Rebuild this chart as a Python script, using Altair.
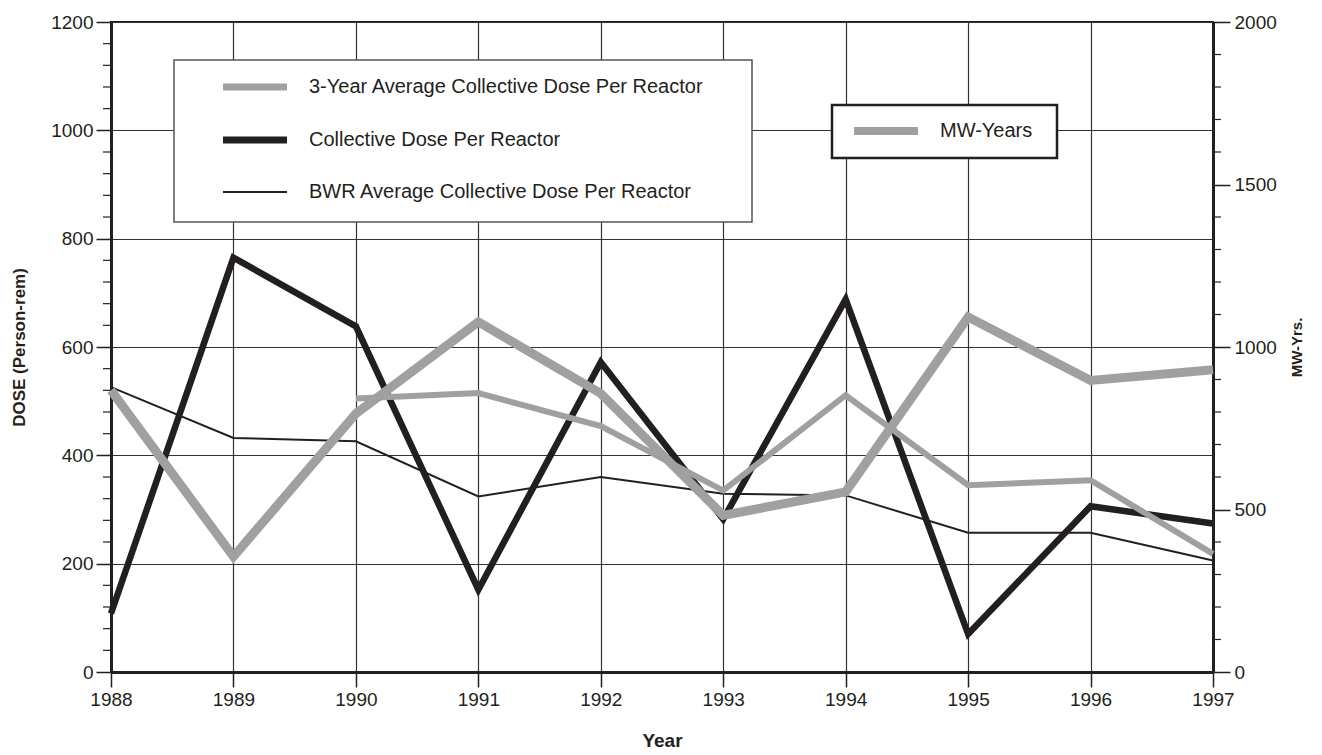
import altair as alt
import pandas as pd

# ---------------- data ----------------
years = [1988, 1989, 1990, 1991, 1992, 1993, 1994, 1995, 1996, 1997]
collective_dose = [108, 765, 638, 152, 572, 282, 688, 70, 306, 274]
bwr_average = [526, 432, 426, 324, 360, 329, 326, 257, 257, 206]
avg3_years = [1990, 1991, 1992, 1993, 1994, 1995, 1996, 1997]
avg3_dose = [505, 515, 454, 335, 511, 345, 354, 218]
mw_years = [867, 355, 795, 1077, 857, 482, 554, 1092, 897, 930]

dose_ticks = [0, 200, 400, 600, 800, 1000, 1200]
dose_minor = [40, 80, 120, 160, 240, 280, 320, 360, 440, 480, 520, 560, 640, 680,
              720, 760, 840, 880, 920, 960, 1040, 1080, 1120, 1160]
mw_ticks = [0, 500, 1000, 1500, 2000]
mw_minor = [100, 200, 300, 400, 600, 700, 800, 900, 1100, 1200, 1300, 1400,
            1600, 1700, 1800, 1900]

legend_labels = ["3-Year Average Collective Dose Per Reactor",
                 "Collective Dose Per Reactor",
                 "BWR Average Collective Dose Per Reactor"]
mw_legend_label = "MW-Years"

# ---------------- styling ----------------
FONT = "Liberation Sans"
BLACK = "#231f20"
GRAY = "#a0a0a0"
W, H = 1102, 650
LBL = 19

x_axis = alt.Axis(values=years, format="d", title="Year", grid=True,
                  gridColor="#333333", gridWidth=1.2, domainColor=BLACK,
                  domainWidth=3, tickColor=BLACK, tickWidth=1.5, tickSize=15,
                  labelFont=FONT, labelFontSize=LBL, labelColor=BLACK,
                  labelPadding=3, labelFlush=False,
                  titleFont=FONT, titleFontSize=19, titleFontWeight="bold",
                  titleColor=BLACK, titlePadding=22)
x_scale = alt.Scale(domain=[1988, 1997], nice=False, zero=False)

left_axis = alt.Axis(values=dose_ticks, format="d", title="DOSE (Person-rem)",
                     grid=True, gridColor="#333333", gridWidth=1.2,
                     domainColor=BLACK, domainWidth=3, tickColor=BLACK,
                     tickWidth=1.5, tickSize=15, labelFont=FONT,
                     labelFontSize=LBL, labelColor=BLACK, labelPadding=3,
                     titleFont=FONT, titleFontSize=17, titleFontWeight="bold",
                     titleColor=BLACK, titlePadding=22)
left_scale = alt.Scale(domain=[0, 1200], nice=False)

right_axis = alt.Axis(values=mw_ticks, format="d", title="MW-Yrs.", orient="right",
                      grid=False, domainColor=BLACK, domainWidth=3,
                      tickColor=BLACK, tickWidth=1.5, tickSize=17,
                      labelFont=FONT, labelFontSize=LBL, labelColor=BLACK,
                      labelPadding=4, titleFont=FONT, titleFontSize=15,
                      titleFontWeight="bold", titleColor=BLACK,
                      titleAngle=270, titlePadding=28)
right_scale = alt.Scale(domain=[0, 2000], nice=False)

X = alt.X("year:Q", scale=x_scale, axis=x_axis)

# ---------------- dose layers ----------------
df_coll = pd.DataFrame({"year": years, "dose": collective_dose})
df_bwr = pd.DataFrame({"year": years, "dose": bwr_average})
df_avg = pd.DataFrame({"year": avg3_years, "dose": avg3_dose})
df_mw = pd.DataFrame({"year": years, "mw": mw_years})

Yd = alt.Y("dose:Q", scale=left_scale, axis=left_axis)

bwr_line = alt.Chart(df_bwr).mark_line(color=BLACK, strokeWidth=2,
                                       strokeJoin="miter").encode(x=X, y=Yd)
coll_line = alt.Chart(df_coll).mark_line(color=BLACK, strokeWidth=6.5,
                                         strokeJoin="miter").encode(x=X, y=Yd)
avg_line = alt.Chart(df_avg).mark_line(color=GRAY, strokeWidth=6,
                                       strokeJoin="miter").encode(x=X, y=Yd)

minor_left = alt.Chart(pd.DataFrame({"dose": dose_minor})).mark_rule(
    color=BLACK, strokeWidth=1.2).encode(
    y=Yd, x=alt.value(-8), x2=alt.value(0))

# dose legend (box + swatches + labels)
leg_box = alt.Chart(pd.DataFrame({"a": [0]})).mark_rect(
    fill="white", stroke="#555555", strokeWidth=1.5).encode(
    x=alt.value(63), x2=alt.value(641), y=alt.value(38), y2=alt.value(200))
leg_layers = [leg_box]
row_y = [65, 118, 170]
sw_col = [GRAY, BLACK, BLACK]
sw_w = [7, 7, 2]
for lab, yy, c, sw in zip(legend_labels, row_y, sw_col, sw_w):
    leg_layers.append(
        alt.Chart(pd.DataFrame({"label": [lab]})).mark_rule(
            color=c, strokeWidth=sw).encode(
            x=alt.value(112), x2=alt.value(176), y=alt.value(yy)))
    leg_layers.append(
        alt.Chart(pd.DataFrame({"label": [lab]})).mark_text(
            font=FONT, fontSize=20, color=BLACK, align="left",
            baseline="middle").encode(
            text="label:N", x=alt.value(198), y=alt.value(yy)))

dose_layer = alt.layer(bwr_line, coll_line, avg_line, minor_left, *leg_layers)

# ---------------- MW layers ----------------
Ym = alt.Y("mw:Q", scale=right_scale, axis=right_axis)
mw_line = alt.Chart(df_mw).mark_line(color=GRAY, strokeWidth=9,
                                     strokeJoin="miter").encode(x=X, y=Ym)
minor_right = alt.Chart(pd.DataFrame({"mw": mw_minor})).mark_rule(
    color=BLACK, strokeWidth=1.2).encode(
    y=Ym, x=alt.value(W), x2=alt.value(W + 8))

mw_box = alt.Chart(pd.DataFrame({"a": [0]})).mark_rect(
    fill="white", stroke=BLACK, strokeWidth=2.5).encode(
    x=alt.value(721), x2=alt.value(946), y=alt.value(83), y2=alt.value(136))
mw_sw = alt.Chart(pd.DataFrame({"label": [mw_legend_label]})).mark_rule(
    color=GRAY, strokeWidth=8).encode(
    x=alt.value(743), x2=alt.value(807), y=alt.value(109))
mw_txt = alt.Chart(pd.DataFrame({"label": [mw_legend_label]})).mark_text(
    font=FONT, fontSize=20, color=BLACK, align="left", baseline="middle").encode(
    text="label:N", x=alt.value(829), y=alt.value(109))

mw_layer = alt.layer(mw_line, minor_right, mw_box, mw_sw, mw_txt)

chart = alt.layer(dose_layer, mw_layer).resolve_scale(y="independent").properties(
    width=W, height=H,
    autosize=alt.AutoSizeParams(type="none"),
    padding={"left": 103, "top": 14, "right": 95, "bottom": 80},
    background="white",
).configure_view(stroke=BLACK, strokeWidth=2)

chart.save("out.html", embed_options={"renderer": "svg", "actions": False})
